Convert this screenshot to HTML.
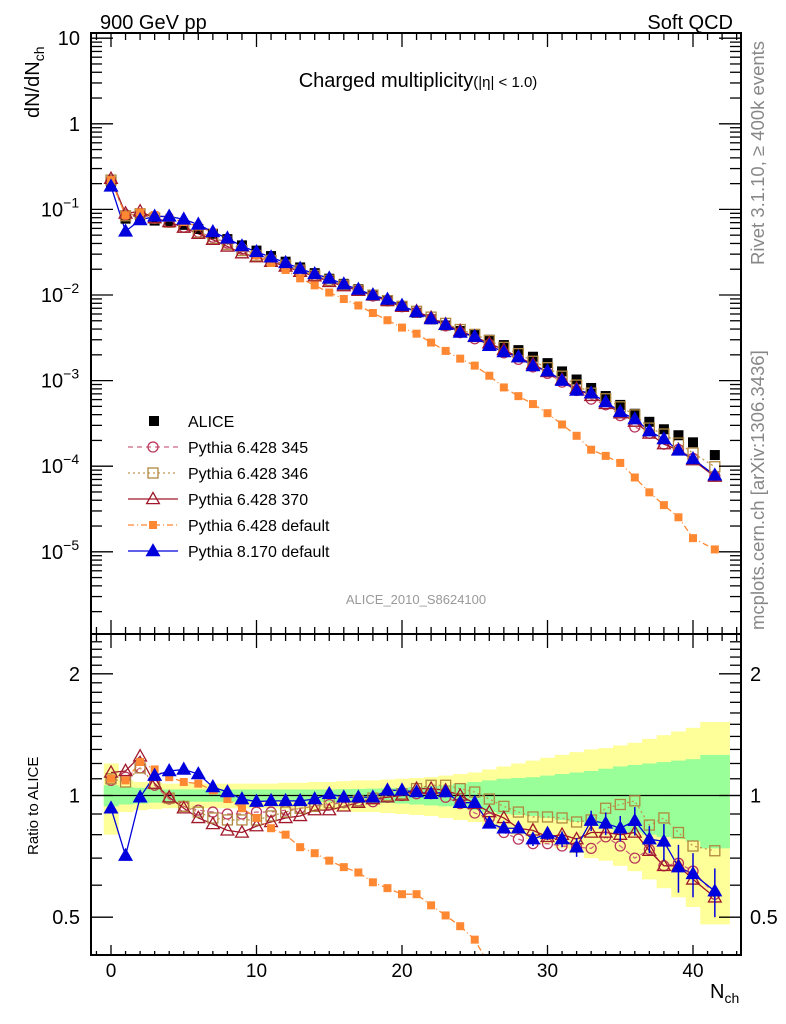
<!DOCTYPE html>
<html><head><meta charset="utf-8"><style>
html,body{margin:0;background:#fff;overflow:hidden;width:786px;height:1024px;}
svg{display:block;font-family:"Liberation Sans",sans-serif;}
</style></head><body>
<svg id="c" width="786" height="1024" viewBox="0 0 786 1024" xmlns="http://www.w3.org/2000/svg">
<g id="bands"></g>
<g id="top"></g>
<g id="bot"></g>
<g id="axes"></g>
<text x="100" y="29" font-size="20">900 GeV pp</text>
<text x="733" y="29" font-size="20" text-anchor="end">Soft QCD</text>
<text x="418" y="87" font-size="20" text-anchor="middle">Charged multiplicity<tspan font-size="15">(|η| &lt; 1.0)</tspan></text>
<text x="416" y="604" font-size="13" fill="#999" text-anchor="middle">ALICE_2010_S8624100</text>
<text transform="translate(764,265) rotate(-90)" font-size="18.5" fill="#888">Rivet 3.1.10, ≥ 400k events</text>
<text transform="translate(764,630) rotate(-90)" font-size="18.5" fill="#888">mcplots.cern.ch [arXiv:1306.3436]</text>
<text transform="translate(39,118) rotate(-90)" font-size="20">dN/dN<tspan font-size="14" dy="5">ch</tspan></text>
<text transform="translate(38,855) rotate(-90)" font-size="15">Ratio to ALICE</text>
<text x="710" y="998" font-size="20">N<tspan font-size="14" dy="5">ch</tspan></text>
<g id="legend"></g>
</svg>
<script>
const nch=[0,1,2,3,4,5,6,7,8,9,10,11,12,13,14,15,16,17,18,19,20,21,22,23,24,25,26,27,28,29,30,31,32,33,34,35,36,37,38,39,40,41.5];
const alice=[0.20,0.078,0.076,0.074,0.072,0.066,0.059,0.052,0.045,0.038,0.033,0.0285,0.0245,0.021,0.018,0.0155,0.0135,0.0117,0.0101,0.0086,0.0073,0.0062,0.0052,0.0044,0.0038,0.0034,0.0030,0.0026,0.00227,0.0019,0.0016,0.00128,0.00103,0.00082,0.00066,0.00052,0.00041,0.00033,0.00027,0.00023,0.00019,0.000135];
const bandYellow=[0.2,0.09,0.08,0.075,0.07,0.07,0.07,0.07,0.07,0.07,0.07,0.07,0.075,0.075,0.08,0.08,0.085,0.09,0.09,0.095,0.1,0.105,0.11,0.12,0.13,0.14,0.16,0.18,0.2,0.22,0.24,0.26,0.28,0.3,0.31,0.33,0.35,0.38,0.41,0.44,0.47,0.52];
const bandGreen=[0.06,0.05,0.045,0.04,0.035,0.035,0.035,0.035,0.035,0.035,0.035,0.035,0.035,0.035,0.035,0.035,0.037,0.038,0.04,0.042,0.045,0.05,0.055,0.06,0.07,0.08,0.09,0.1,0.105,0.11,0.12,0.13,0.14,0.15,0.165,0.18,0.19,0.2,0.21,0.22,0.23,0.26];
const r345=[1.09,1.11,1.17,1.06,0.98,0.94,0.92,0.91,0.9,0.9,0.91,0.91,0.92,0.93,0.94,0.95,0.96,0.97,0.965,0.99,1.0,1.01,1.01,0.99,0.955,0.905,0.88,0.81,0.78,0.76,0.76,0.75,0.745,0.74,0.79,0.75,0.70,0.735,0.67,0.68,0.65,0.57];
const r346=[1.10,1.08,1.17,1.07,0.985,0.94,0.91,0.88,0.87,0.87,0.87,0.89,0.91,0.93,0.94,0.96,0.965,0.97,0.985,1.0,1.01,1.04,1.06,1.06,1.04,1.02,0.98,0.94,0.91,0.885,0.885,0.88,0.86,0.87,0.93,0.95,0.97,0.845,0.88,0.81,0.75,0.73];
const r370=[1.14,1.15,1.25,1.07,0.99,0.93,0.88,0.85,0.82,0.81,0.84,0.86,0.88,0.89,0.92,0.92,0.94,0.96,0.98,0.99,1.0,1.04,1.04,1.03,1.0,0.955,0.91,0.88,0.83,0.82,0.79,0.8,0.78,0.81,0.81,0.8,0.81,0.73,0.67,0.67,0.62,0.56];
const rDef6=[1.10,1.09,1.21,1.16,1.11,1.08,1.07,1.03,0.98,0.93,0.88,0.83,0.80,0.745,0.72,0.69,0.665,0.645,0.61,0.59,0.57,0.57,0.535,0.505,0.475,0.44,0.38,0.32,0.29,0.28,0.26,0.24,0.22,0.19,0.2,0.21,0.18,0.15,0.13,0.11,0.076,0.079];
const rPy8=[0.93,0.71,0.99,1.12,1.15,1.16,1.13,1.05,1.02,0.98,0.966,0.97,0.97,0.97,0.98,1.01,0.99,0.99,0.99,1.03,1.03,1.02,1.01,1.02,0.96,0.96,0.853,0.83,0.83,0.78,0.805,0.78,0.745,0.867,0.853,0.83,0.866,0.78,0.77,0.665,0.64,0.58];
const errPy8=[0,0,0,0,0,0,0,0,0,0,0,0,0,0,0,0,0,0,0,0,0,0,0,0,0,0,0.015,0.02,0.025,0.03,0.03,0.035,0.04,0.05,0.055,0.06,0.07,0.06,0.08,0.09,0.08,0.08];
const xTicks=[0,10,20,30,40];
const yTopTicks=[1,0,-1,-2,-3,-4,-5];
const yRatioTicks=[2,1,0.5];

const NS="http://www.w3.org/2000/svg";
const L=91,R=741,T1=33,B1=634,B2=955;
const X=v=>111+14.55*v;
const YT=v=>123.8-85.6*Math.log10(v);
const YR=v=>795.5-404.3*Math.log10(v);
const RMIN=0.403;
function mk(p,tag,a){const e=document.createElementNS(NS,tag);for(const k in a)e.setAttribute(k,a[k]);p.appendChild(e);return e;}
const gB=document.getElementById('bands'),gT=document.getElementById('top'),gR=document.getElementById('bot'),gA=document.getElementById('axes'),gL=document.getElementById('legend');

nch.forEach((n,i)=>{
  const lo=i==nch.length-1?40.5:n-0.5, hi=i==nch.length-1?42.5:n+0.5;
  const y1=YR(1+bandYellow[i]),y2=YR(Math.max(RMIN,1-bandYellow[i]));
  const r=mk(gB,'rect',{x:X(lo),y:y1,width:X(hi)-X(lo)+0.5,height:y2-y1,fill:'#ffff99'});
  
  
});
nch.forEach((n,i)=>{
  const lo=i==nch.length-1?40.5:n-0.5, hi=i==nch.length-1?42.5:n+0.5;
  const y1=YR(1+bandGreen[i]),y2=YR(1-bandGreen[i]);
  const r=mk(gB,'rect',{x:X(lo),y:y1,width:X(hi)-X(lo)+0.5,height:y2-y1,fill:'#99ff99'});
  
  
});
const one=mk(gB,'line',{x1:L,x2:R,y1:YR(1),y2:YR(1),stroke:'#000','stroke-width':1.2});



const series=[
 {name:'p6-345',r:r345,col:'#b8365a',lc:'#cc6680',dash:'5,4',m:'circle',fill:false},
 {name:'p6-346',r:r346,col:'#b08840',lc:'#c09850',dash:'2,3',m:'square',fill:false},
 {name:'p6-370',r:r370,col:'#a0182a',lc:'#a0182a',dash:'',m:'tri',fill:false},
 {name:'p6-default',r:rDef6,col:'#ff8833',lc:'#ff8833',dash:'6,3,1,3',m:'square',fill:true},
 {name:'p8-default',r:rPy8,col:'#0000dd',lc:'#0000dd',dash:'',m:'tri',fill:true,err:errPy8}
];
function marker(g,m,x,y,col,fill,s){
  let e;
  const a={stroke:col,'stroke-width':1.3,fill:fill?col:'none'};
  if(m=='circle'){a.cx=x;a.cy=y;a.r=s*0.5;e=mk(g,'circle',a);}
  else if(m=='square'){a.x=x-s/2;a.y=y-s/2;a.width=s;a.height=s;if(fill)a.stroke='none';e=mk(g,'rect',a);}
  else {a.points=`${x},${y-s*0.6} ${x-s*0.58},${y+s*0.42} ${x+s*0.58},${y+s*0.42}`;e=mk(g,'polygon',a);}
  return e;
}
const defs=mk(document.getElementById('c'),'defs',{});
const cp=mk(defs,'clipPath',{id:'rc'});mk(cp,'rect',{x:L,y:B1,width:R-L,height:B2-B1});
gR.setAttribute('clip-path','url(#rc)');
const SZ={circle:10,square:10,tri:11};

series.forEach(s=>{
  const tp=nch.map((n,i)=>`${X(n)},${YT(alice[i]*s.r[i])}`).join(' ');
  const pl=mk(gT,'polyline',{points:tp,fill:'none',stroke:s.lc,'stroke-width':1.3,'stroke-dasharray':s.dash});
  
  
  const rp=nch.map((n,i)=>`${X(n)},${YR(s.r[i])}`).join(' ');
  const pr=mk(gR,'polyline',{points:rp,fill:'none',stroke:s.lc,'stroke-width':1.3,'stroke-dasharray':s.dash});
  
  
});
nch.forEach((n,i)=>{
  const e=marker(gT,'square',X(n),YT(alice[i]),'#000',true,10);
  
  
});
series.forEach(s=>{
  nch.forEach((n,i)=>{
    const sz=s.m=='square'&&s.fill?8:SZ[s.m];
    const e=marker(gT,s.m,X(n),YT(alice[i]*s.r[i]),s.col,s.fill,sz);
    
    
    if(s.err&&s.err[i]>0){
      const el=mk(gR,'line',{x1:X(n),x2:X(n),y1:YR(s.r[i]+s.err[i]),y2:YR(s.r[i]-s.err[i]),stroke:s.col,'stroke-width':1.5});
      
      
    }
    const f=marker(gR,s.m,X(n),YR(s.r[i]),s.col,s.fill,sz);
    
    
  });
});

[[T1,B1],[B1,B2]].forEach(([a,b],k)=>{
  const f=mk(gA,'rect',{x:L,y:a,width:R-L,height:b-a,fill:'none',stroke:'#000','stroke-width':2});
  
  
});
function tl(x1,y1,x2,y2){mk(gA,'line',{x1,y1,x2,y2,stroke:'#000','stroke-width':1.3});}
for(let v=-1;v<=43;v++){
  const x=X(v); if(x<L||x>R)continue;
  const len=v%10==0?14:7;
  tl(x,T1,x,T1+len);tl(x,B1,x,B1-len);tl(x,B1,x,B1+len);tl(x,B2,x,B2-(v%10==0?10:4));
}
xTicks.forEach(v=>{
  const t=mk(gA,'text',{x:X(v),y:977,'font-size':19,'text-anchor':'middle'});t.textContent=v;
  
  
});
for(let d=-6;d<=1;d++){
  for(let m=1;m<10;m++){
    const v=m*Math.pow(10,d);const y=YT(v);if(y<T1||y>B1)continue;
    const len=m==1?22:11;tl(L,y,L+len,y);tl(R,y,R-len,y);
  }
}
yTopTicks.forEach(e=>{
  const y=YT(Math.pow(10,e));
  const t=mk(gA,'text',{x:80,y:y+7,'font-size':20,'text-anchor':'end'});
  
  
  if(e==1)t.textContent='10';else if(e==0)t.textContent='1';
  else{t.textContent='10';const ts=document.createElementNS(NS,'tspan');ts.setAttribute('dy','-9');ts.setAttribute('font-size','14');ts.textContent='−'+(-e);t.appendChild(ts);t.setAttribute('x',60);t.setAttribute('text-anchor','middle');}
});
const rt=[0.5,0.6,0.7,0.8,0.9,1,1.1,1.2,1.3,1.4,1.5,1.6,1.7,1.8,1.9,2,2.1,2.2,2.3,2.4];
rt.forEach(v=>{const y=YR(v);const len=(v==0.5||v==1||v==2)?22:11;tl(L,y,L+len,y);tl(R,y,R-len,y);});
yRatioTicks.forEach(v=>{
  const y=YR(v);
  const t=mk(gA,'text',{x:80,y:y+7,'font-size':20,'text-anchor':'end'});t.textContent=v;
  
  
  const t2=mk(gA,'text',{x:750,y:y+7,'font-size':20});t2.textContent=v;
  
  
});

const leg=[['ALICE',null],['Pythia 6.428 345',0],['Pythia 6.428 346',1],['Pythia 6.428 370',2],['Pythia 6.428 default',3],['Pythia 8.170 default',4]];
const legY=[421,447,473,499,525,551];
leg.forEach(([lab,si],k)=>{
  const g=mk(gL,'g',{});
  
  
  const y=legY[k];
  if(si===null){marker(g,'square',154,y,'#000',true,10);}
  else{const s=series[si];
    mk(g,'line',{x1:128,x2:178,y1:y,y2:y,stroke:s.lc,'stroke-width':1.3,'stroke-dasharray':s.dash});
    marker(g,s.m,153,y,s.col,s.fill,s.m=='square'&&s.fill?8:SZ[s.m]);}
  const t=mk(g,'text',{x:188,y:y+6,'font-size':16});t.textContent=lab;
});
</script>
</body></html>
